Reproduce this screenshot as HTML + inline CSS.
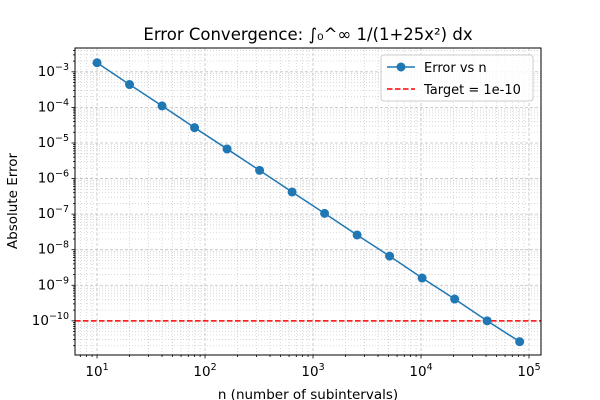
<!DOCTYPE html>
<html><head><meta charset="utf-8"><style>
body{margin:0;background:#fff}
svg{display:block;font-family:"DejaVu Sans","Liberation Sans",sans-serif}
</style></head><body>
<svg id="chart" width="600" height="400" viewBox="0 0 600 400" xmlns="http://www.w3.org/2000/svg">
<rect width="600" height="400" fill="#fff"/>
<g id="grid"></g>
<g id="marks"></g>
<g id="axes"></g>
<text x="308" y="40" text-anchor="middle" font-size="16.5">Error Convergence: ∫₀^∞ 1/(1+25x²) dx</text>
<text transform="translate(17,201) rotate(-90)" text-anchor="middle" font-size="13.5">Absolute Error</text>
<text x="308" y="399" text-anchor="middle" font-size="13.5">n (number of subintervals)</text>
<g>
<rect x="381" y="55" width="152" height="46" rx="3" fill="#fff" fill-opacity="0.8" stroke="#ccc"/>
<line x1="387" y1="67" x2="415" y2="67" stroke="#1f77b4" stroke-width="1.5"/>
<circle cx="401" cy="67" r="4.5" fill="#1f77b4"/>
<text x="424" y="72" font-size="13">Error vs n</text>
<line x1="387" y1="89" x2="415" y2="89" stroke="red" stroke-width="1.5" stroke-dasharray="5.5,2.5"/>
<text x="424" y="94" font-size="13">Target = 1e-10</text>
</g>
</svg>
<script>
const nValues=[10,20,40,80,160,320,640,1280,2560,5120,10240,20480,40960,81920];
const errValues=[1.8e-3,4.4e-4,1.1e-4,2.7e-5,6.8e-6,1.7e-6,4.2e-7,1.05e-7,2.6e-8,6.6e-9,1.6e-9,4.1e-10,1.0e-10,2.6e-11];
const target=1e-10;
const xTickExps=[1,2,3,4,5];
const yTickExps=[-3,-4,-5,-6,-7,-8,-9,-10];
const L=75,R=541,T=48,B=355;
const xMin=0.796,xMax=5.111,yMin=-10.96,yMax=-2.33;
const X=v=>L+(Math.log10(v)-xMin)/(xMax-xMin)*(R-L);
const Y=v=>B-(Math.log10(v)-yMin)/(yMax-yMin)*(B-T);
const NS="http://www.w3.org/2000/svg";
function mk(t,a,p){const e=document.createElementNS(NS,t);for(const k in a)e.setAttribute(k,a[k]);p.appendChild(e);return e;}
const grid=document.getElementById('grid'),axes=document.getElementById('axes'),marks=document.getElementById('marks');
for(let d=0;d<=5;d++)for(let m=1;m<10;m++){const v=m*Math.pow(10,d);const x=X(v);if(x<L||x>R)continue;
mk('line',{x1:x,x2:x,y1:T,y2:B,stroke:m==1?'#c0c0c0':'#d0d0d0','stroke-width':0.8,'stroke-dasharray':m==1?'3,2':'1,2'},grid);
mk('line',{x1:x,x2:x,y1:B,y2:B+(m==1?3.5:2),stroke:'#000','stroke-width':0.8},axes);}
for(let d=-11;d<=-2;d++)for(let m=1;m<10;m++){const v=m*Math.pow(10,d);const y=Y(v);if(y<T||y>B)continue;
mk('line',{x1:L,x2:R,y1:y,y2:y,stroke:m==1?'#c0c0c0':'#d0d0d0','stroke-width':0.8,'stroke-dasharray':m==1?'3,2':'1,2'},grid);
mk('line',{x1:L,x2:L-(m==1?3.5:2),y1:y,y2:y,stroke:'#000','stroke-width':0.8},axes);}
mk('rect',{x:L,y:T,width:R-L,height:B-T,fill:'none',stroke:'#000','stroke-width':1},axes);
xTickExps.forEach(e=>{const t=mk('text',{x:X(Math.pow(10,e)),y:B+21,'text-anchor':'middle','font-size':13.5},axes);


t.innerHTML='10<tspan dy="-6" font-size="9.5">'+e+'</tspan>';});
yTickExps.forEach(e=>{const t=mk('text',{x:L-6,y:Y(Math.pow(10,e))+4,'text-anchor':'end','font-size':13.5},axes);


t.innerHTML='10<tspan dy="-6" font-size="9.5">−'+(-e)+'</tspan>';});
const tl=mk('line',{x1:L,x2:R,y1:Y(target),y2:Y(target),stroke:'red','stroke-width':1.5,'stroke-dasharray':'5.5,2.5'},marks);


const pl=mk('polyline',{points:nValues.map((n,i)=>X(n)+','+Y(errValues[i])).join(' '),fill:'none',stroke:'#1f77b4','stroke-width':1.5},marks);


nValues.forEach((n,i)=>{const c=mk('circle',{cx:X(n),cy:Y(errValues[i]),r:4.5,fill:'#1f77b4'},marks);

});
</script>
</body></html>
